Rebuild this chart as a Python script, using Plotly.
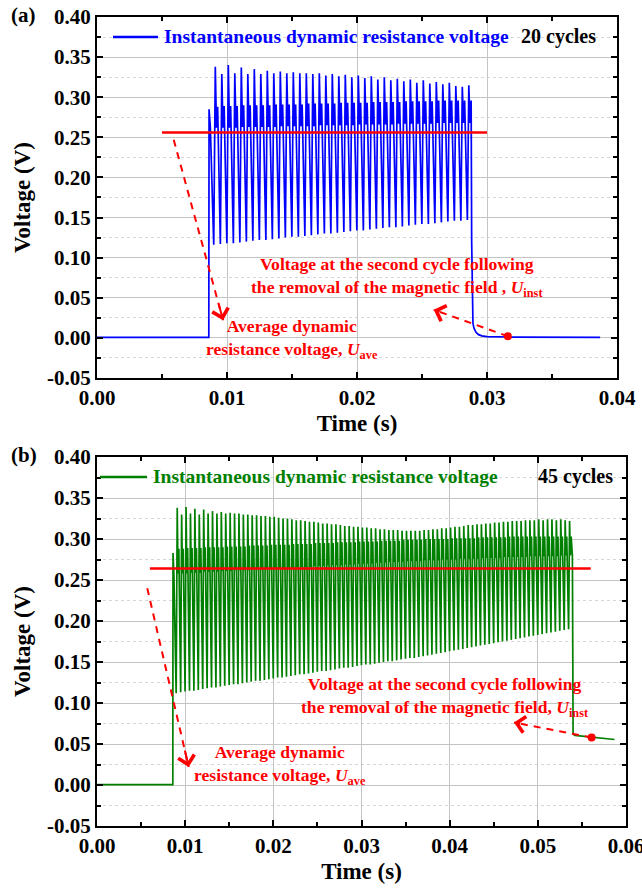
import plotly.graph_objects as go

FONT = "Liberation Serif"
BLUE = "#0000ff"
GREEN = "#008000"
RED = "#ff0000"

# ---------------- Panel (a): 20 cycles ----------------
a_head_t = [0.0, 0.00860, 0.00862, 0.00872, 0.00898]
a_head_v = [0.0005, 0.0005, 0.285, 0.262, 0.116]
a_first_spike = 0.0091
a_half_period = 0.0005
a_tall = [0.338, 0.329, 0.340, 0.330, 0.337, 0.329, 0.335, 0.329, 0.333, 0.330,
          0.332, 0.330, 0.331, 0.330, 0.330, 0.329, 0.330, 0.327, 0.329, 0.326,
          0.328, 0.325, 0.327, 0.324, 0.326, 0.322, 0.325, 0.321, 0.323, 0.320,
          0.322, 0.318, 0.321, 0.317, 0.319, 0.316, 0.318, 0.314, 0.313, 0.315]
a_dip = [0.262, 0.262, 0.262, 0.262, 0.263, 0.263, 0.263, 0.263, 0.263, 0.263,
         0.264, 0.264, 0.264, 0.264, 0.264, 0.264, 0.265, 0.265, 0.265, 0.265,
         0.265, 0.265, 0.266, 0.266, 0.266, 0.266, 0.266, 0.266, 0.267, 0.267,
         0.267, 0.267, 0.267, 0.267, 0.268, 0.268, 0.268, 0.268, 0.268, 0.268]
a_mid = [0.288, 0.289, 0.289, 0.289, 0.290, 0.290, 0.290, 0.290, 0.290, 0.291,
         0.291, 0.291, 0.291, 0.291, 0.292, 0.292, 0.292, 0.292, 0.292, 0.293,
         0.293, 0.293, 0.293, 0.293, 0.294, 0.294, 0.294, 0.294, 0.294, 0.295,
         0.295, 0.295, 0.295, 0.295, 0.296, 0.296, 0.296, 0.296, 0.296, 0.296]
a_valley = [0.117, 0.118, 0.118, 0.119, 0.120, 0.121, 0.122, 0.122, 0.123, 0.124,
            0.125, 0.126, 0.126, 0.127, 0.128, 0.129, 0.130, 0.130, 0.131, 0.132,
            0.133, 0.134, 0.134, 0.135, 0.136, 0.137, 0.138, 0.138, 0.139, 0.140,
            0.141, 0.142, 0.142, 0.143, 0.144, 0.145, 0.146, 0.146, 0.147]
a_tail_t = [0.02882, 0.02886, 0.02892, 0.02900, 0.02915, 0.02935, 0.02960, 0.03000, 0.03200, 0.03870]
a_tail_v = [0.120, 0.030, 0.018, 0.012, 0.007, 0.004, 0.0025, 0.0015, 0.001, 0.0005]
a_ave_t = [0.0050, 0.0300]
a_ave_v = [0.256, 0.256]
a_inst_t = [0.0316]
a_inst_v = [0.002]

# ---------------- Panel (b): 45 cycles ----------------
b_head_t = [0.0, 0.00860, 0.00862, 0.00872, 0.00898]
b_head_v = [0.0005, 0.0005, 0.283, 0.258, 0.112]
b_first_spike = 0.0091
b_half_period = 0.0005
b_tall = [0.338, 0.330, 0.339, 0.331, 0.337, 0.330, 0.336, 0.331, 0.334, 0.331,
          0.333, 0.331, 0.332, 0.331, 0.331, 0.330, 0.330, 0.329, 0.329, 0.328,
          0.328, 0.327, 0.327, 0.326, 0.325, 0.325, 0.324, 0.323, 0.323, 0.322,
          0.321, 0.321, 0.320, 0.319, 0.319, 0.318, 0.318, 0.317, 0.316, 0.316,
          0.315, 0.315, 0.314, 0.314, 0.313, 0.313, 0.312, 0.312, 0.311, 0.311,
          0.311, 0.310, 0.310, 0.310, 0.310, 0.310, 0.311, 0.311, 0.312, 0.312,
          0.313, 0.313, 0.314, 0.315, 0.315, 0.316, 0.317, 0.317, 0.318, 0.318,
          0.319, 0.319, 0.320, 0.320, 0.321, 0.321, 0.322, 0.322, 0.322, 0.323,
          0.323, 0.323, 0.324, 0.323, 0.324, 0.324, 0.323, 0.324, 0.323, 0.322]
b_dip = [0.258, 0.258, 0.258, 0.259, 0.259, 0.259, 0.260, 0.260, 0.260, 0.260,
         0.261, 0.261, 0.261, 0.262, 0.262, 0.262, 0.262, 0.263, 0.263, 0.263,
         0.264, 0.264, 0.264, 0.264, 0.265, 0.265, 0.265, 0.266, 0.266, 0.266,
         0.266, 0.267, 0.267, 0.267, 0.268, 0.268, 0.268, 0.268, 0.269, 0.269,
         0.269, 0.270, 0.270, 0.270, 0.270, 0.271, 0.271, 0.271, 0.272, 0.272,
         0.272, 0.272, 0.273, 0.273, 0.273, 0.273, 0.274, 0.274, 0.274, 0.274,
         0.275, 0.275, 0.275, 0.275, 0.276, 0.276, 0.276, 0.276, 0.276, 0.277,
         0.277, 0.277, 0.277, 0.277, 0.278, 0.278, 0.278, 0.278, 0.278, 0.278,
         0.279, 0.279, 0.279, 0.279, 0.279, 0.279, 0.279, 0.280, 0.280, 0.280]
b_mid = [0.288, 0.288, 0.289, 0.289, 0.289, 0.289, 0.290, 0.290, 0.290, 0.290,
         0.290, 0.291, 0.291, 0.291, 0.291, 0.291, 0.292, 0.292, 0.292, 0.292,
         0.292, 0.293, 0.293, 0.293, 0.293, 0.293, 0.294, 0.294, 0.294, 0.294,
         0.294, 0.295, 0.295, 0.295, 0.295, 0.295, 0.296, 0.296, 0.296, 0.296,
         0.296, 0.297, 0.297, 0.297, 0.297, 0.297, 0.298, 0.298, 0.298, 0.298,
         0.298, 0.299, 0.299, 0.299, 0.299, 0.299, 0.300, 0.300, 0.300, 0.300,
         0.300, 0.300, 0.301, 0.301, 0.301, 0.301, 0.301, 0.301, 0.302, 0.302,
         0.302, 0.302, 0.302, 0.302, 0.302, 0.303, 0.303, 0.303, 0.303, 0.303,
         0.303, 0.303, 0.303, 0.303, 0.303, 0.303, 0.303, 0.303, 0.303, 0.303]
b_valley = [0.113, 0.114, 0.115, 0.115, 0.116, 0.117, 0.118, 0.119, 0.119, 0.120,
            0.121, 0.122, 0.123, 0.123, 0.124, 0.125, 0.126, 0.127, 0.127, 0.128,
            0.129, 0.130, 0.131, 0.131, 0.132, 0.133, 0.134, 0.135, 0.135, 0.136,
            0.137, 0.138, 0.139, 0.139, 0.140, 0.141, 0.142, 0.143, 0.143, 0.144,
            0.145, 0.146, 0.147, 0.147, 0.148, 0.149, 0.150, 0.151, 0.151, 0.152,
            0.153, 0.154, 0.155, 0.155, 0.156, 0.157, 0.158, 0.159, 0.160, 0.161,
            0.162, 0.163, 0.164, 0.165, 0.166, 0.167, 0.168, 0.169, 0.170, 0.171,
            0.172, 0.173, 0.174, 0.175, 0.176, 0.177, 0.178, 0.179, 0.180, 0.181,
            0.182, 0.183, 0.184, 0.185, 0.186, 0.187, 0.188, 0.189, 0.190]
b_tail_t = [0.05392, 0.05400, 0.05420, 0.05500, 0.05610, 0.05870]
b_tail_v = [0.280, 0.062, 0.0605, 0.0595, 0.058, 0.0555]
b_ave_t = [0.0060, 0.0560]
b_ave_v = [0.264, 0.264]
b_inst_t = [0.0561]
b_inst_v = [0.058]

# Axis tick labels
y_tickvals = [-0.05, 0.00, 0.05, 0.10, 0.15, 0.20, 0.25, 0.30, 0.35, 0.40]
y_ticktext = ["-0.05", "0.00", "0.05", "0.10", "0.15", "0.20", "0.25", "0.30", "0.35", "0.40"]
a_xtickvals = [0.00, 0.01, 0.02, 0.03, 0.04]
a_xticktext = ["0.00", "0.01", "0.02", "0.03", "0.04"]
b_xtickvals = [0.00, 0.01, 0.02, 0.03, 0.04, 0.05, 0.06]
b_xticktext = ["0.00", "0.01", "0.02", "0.03", "0.04", "0.05", "0.06"]

LEGEND_TEXT = "Instantaneous dynamic resistance voltage"

# vertex placement within each half period (style)
OFFS = [0.0, 0.18, 0.36, 0.78]


def waveform(head_t, head_v, t_first, T, tall, dip, mid, valley, tail_t, tail_v):
    t = list(head_t)
    v = list(head_v)
    n = len(tall)
    for i in range(n):
        t0 = t_first + i * T
        t += [t0, t0 + OFFS[1] * T, t0 + OFFS[2] * T]
        v += [tall[i], dip[i], mid[i]]
        if i < n - 1:
            t.append(t0 + OFFS[3] * T)
            v.append(valley[i])
    t += tail_t
    v += tail_v
    return t, v


a_t, a_v = waveform(a_head_t, a_head_v, a_first_spike, a_half_period,
                    a_tall, a_dip, a_mid, a_valley, a_tail_t, a_tail_v)
b_t, b_v = waveform(b_head_t, b_head_v, b_first_spike, b_half_period,
                    b_tall, b_dip, b_mid, b_valley, b_tail_t, b_tail_v)

fig = go.Figure()

fig.add_trace(go.Scatter(x=a_t, y=a_v, mode="lines", line=dict(color=BLUE, width=1.7),
                         name=LEGEND_TEXT, showlegend=False, xaxis="x", yaxis="y"))
fig.add_trace(go.Scatter(x=a_ave_t, y=a_ave_v, mode="lines", line=dict(color=RED, width=2.4),
                         showlegend=False, xaxis="x", yaxis="y"))
fig.add_trace(go.Scatter(x=b_t, y=b_v, mode="lines", line=dict(color=GREEN, width=1.7),
                         name=LEGEND_TEXT, showlegend=False, xaxis="x2", yaxis="y2"))
fig.add_trace(go.Scatter(x=b_ave_t, y=b_ave_v, mode="lines", line=dict(color=RED, width=2.4),
                         showlegend=False, xaxis="x2", yaxis="y2"))

# dashed arrows (start -> head); open chevron arrowhead from an annotation
arrows = [
    ("x", "y", (0.0059, 0.247), (0.0097, 0.022)),
    ("x", "y", (a_inst_t[0], a_inst_v[0]), (0.0259, 0.035)),
    ("x2", "y2", (0.0057, 0.240), (0.0104, 0.022)),
    ("x2", "y2", (b_inst_t[0], b_inst_v[0]), (0.0473, 0.0762)),
]
for xa, ya, s, h in arrows:
    fig.add_trace(go.Scatter(x=[s[0], h[0]], y=[s[1], h[1]], mode="lines",
                             line=dict(color=RED, width=2, dash="7px,6px"),
                             showlegend=False, xaxis=xa, yaxis=ya))
    fig.add_annotation(x=h[0], y=h[1], ax=h[0] - 0.1 * (h[0] - s[0]), ay=h[1] - 0.1 * (h[1] - s[1]),
                       xref=xa, yref=ya, axref=xa, ayref=ya, text="", showarrow=True,
                       arrowhead=4, arrowsize=1.6, arrowwidth=2, arrowcolor=RED)

fig.add_trace(go.Scatter(x=a_inst_t, y=a_inst_v, mode="markers", marker=dict(color=RED, size=8),
                         showlegend=False, xaxis="x", yaxis="y"))
fig.add_trace(go.Scatter(x=b_inst_t, y=b_inst_v, mode="markers", marker=dict(color=RED, size=8),
                         showlegend=False, xaxis="x2", yaxis="y2"))

tickfont = dict(family=FONT, size=21, color="black", weight="bold")
titlefont = dict(family=FONT, size=23, color="black", weight="bold")


def xaxis_cfg(domain, rng, tv, tt, anchor):
    return dict(domain=domain, range=rng, anchor=anchor, tickmode="array", tickvals=tv, ticktext=tt,
                tickfont=tickfont, ticks="inside", ticklen=6, tickwidth=2, tickcolor="black",
                showline=True, linecolor="black", linewidth=2, mirror="allticks",
                showgrid=True, gridcolor="#c4c4c4", gridwidth=1, zeroline=False,
                ticklabeloverflow="allow", automargin=False,
                minor=dict(tickmode="linear", tick0=0, dtick=0.005, ticks="inside", ticklen=4,
                           tickwidth=2, tickcolor="black", showgrid=False),
                title=dict(text="Time (s)", font=titlefont, standoff=6))


def yaxis_cfg(domain, anchor):
    return dict(domain=domain, range=[-0.05, 0.40], anchor=anchor, tickmode="array",
                tickvals=y_tickvals, ticktext=y_ticktext,
                tickfont=tickfont, ticks="inside", ticklen=6, tickwidth=2, tickcolor="black",
                showline=True, linecolor="black", linewidth=2, mirror="allticks",
                showgrid=True, gridcolor="#c4c4c4", gridwidth=1, zeroline=False,
                automargin=False,
                minor=dict(tickmode="linear", tick0=0.025, dtick=0.05, ticks="inside", ticklen=4,
                           tickwidth=2, tickcolor="black", showgrid=True, gridcolor="#d6d6d6",
                           griddash="dot", gridwidth=1),
                title=dict(text="Voltage (V)", font=titlefont, standoff=10))


fig.update_layout(
    width=642, height=889,
    margin=dict(l=97, r=16, t=17, b=63, autoexpand=False),
    paper_bgcolor="white", plot_bgcolor="white",
    xaxis=xaxis_cfg([0, 0.983], [0, 0.04], a_xtickvals, a_xticktext, "y"),
    yaxis=yaxis_cfg([0.5538, 1.0], "x"),
    xaxis2=xaxis_cfg([0, 1.0], [0, 0.06], b_xtickvals, b_xticktext, "y2"),
    yaxis2=yaxis_cfg([0, 0.4561], "x2"),
    showlegend=False,
)

# legend samples (line + label) in each panel
fig.add_shape(type="line", xref="paper", yref="paper", x0=0.0302, x1=0.1153, y0=0.9753, y1=0.9753,
              line=dict(color=BLUE, width=2.5))
fig.add_annotation(text=LEGEND_TEXT, x=0.1229, y=0.9753, xref="paper", yref="paper", showarrow=False,
                   xanchor="left", yanchor="middle",
                   font=dict(family=FONT, size=19.5, color=BLUE, weight="bold"))
fig.add_shape(type="line", xref="paper", yref="paper", x0=0.0057, x1=0.0945, y0=0.4314, y1=0.4314,
              line=dict(color=GREEN, width=2.5))
fig.add_annotation(text=LEGEND_TEXT, x=0.1021, y=0.4314, xref="paper", yref="paper", showarrow=False,
                   xanchor="left", yanchor="middle",
                   font=dict(family=FONT, size=19.5, color=GREEN, weight="bold"))

labfont = dict(family=FONT, size=21, color="black", weight="bold")
redfont = dict(family=FONT, size=17.6, color=RED, weight="bold")
fig.add_annotation(text="(a)", x=-0.138, y=1.0025, xref="paper", yref="paper", showarrow=False,
                   xanchor="center", yanchor="middle", font=labfont)
fig.add_annotation(text="(b)", x=-0.138, y=0.4586, xref="paper", yref="paper", showarrow=False,
                   xanchor="center", yanchor="middle", font=labfont)
fig.add_annotation(text="20 cycles", x=0.873, y=0.9753, xref="paper", yref="paper", showarrow=False,
                   xanchor="center", yanchor="middle",
                   font=dict(family=FONT, size=20, color="black", weight="bold"))
fig.add_annotation(text="45 cycles", x=0.904, y=0.4314, xref="paper", yref="paper", showarrow=False,
                   xanchor="center", yanchor="middle",
                   font=dict(family=FONT, size=20, color="black", weight="bold"))

fig.add_annotation(text="Average dynamic<br>resistance voltage, <i>U</i><sub>ave</sub>",
                   x=0.0150, y=-0.001, xref="x", yref="y", showarrow=False, font=redfont, align="center")
fig.add_annotation(text="Voltage at the second cycle following<br>the removal of the magnetic field , <i>U</i><sub>inst</sub>",
                   x=0.0231, y=0.0753, xref="x", yref="y", showarrow=False, font=redfont, align="center")
fig.add_annotation(text="Average dynamic<br>resistance voltage, <i>U</i><sub>ave</sub>",
                   x=0.0208, y=0.024, xref="x2", yref="y2", showarrow=False, font=redfont, align="center")
fig.add_annotation(text="Voltage at the second cycle following<br>the removal of the magnetic field, <i>U</i><sub>inst</sub>",
                   x=0.0395, y=0.107, xref="x2", yref="y2", showarrow=False, font=redfont, align="center")

fig.write_html("out.html")
